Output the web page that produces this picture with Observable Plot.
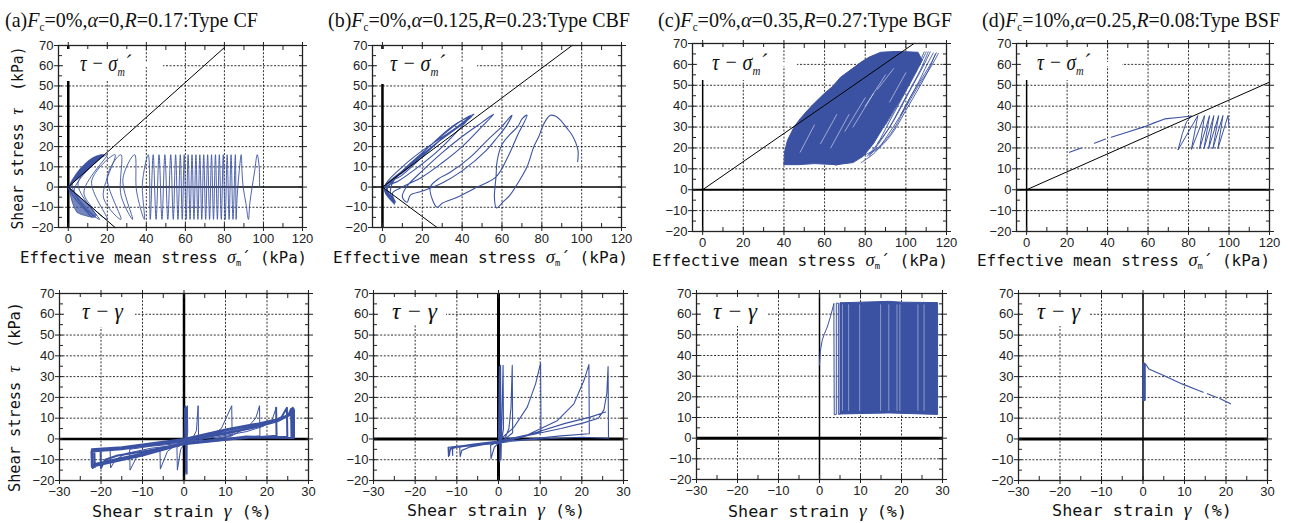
<!DOCTYPE html>
<html><head><meta charset="utf-8">
<script src="https://cdn.jsdelivr.net/npm/d3@7"></script>
<script src="https://cdn.jsdelivr.net/npm/@observablehq/plot@0.6"></script>
<style>
body{margin:0;background:#fff;}
#root{position:relative;width:1290px;height:523px;overflow:hidden;background:#fff;}
.t{position:absolute;white-space:nowrap;line-height:1;}
.title{font-family:"Liberation Serif","Times New Roman",serif;font-size:22px;color:#111;}
.ax{font-family:"DejaVu Sans Mono","Liberation Mono",monospace;font-size:16px;color:#111;}
.lab{font-family:"Liberation Serif",serif;font-style:italic;font-size:24px;color:#111;}
.gk{font-family:"Liberation Serif",serif;font-style:italic;font-size:1.15em;line-height:0;}
.box{position:absolute;background:#fff;}
sub{font-size:55%;vertical-align:-0.35em;line-height:0;}
</style></head><body><div id="root"></div><script>
const BLUE = "#3b52a2";

// ---- ticks / grid values ----
const topXLabels = [0,20,40,60,80,100,120];
const topXMinor = [0,10,20,30,40,50,60,70,80,90,100,110,120];
const botXLabels = [-30,-20,-10,0,10,20,30];
const botXMinor = [-30,-25,-20,-15,-10,-5,0,5,10,15,20,25,30];
const yLabels = [-20,-10,0,10,20,30,40,50,60,70];
const yMinor = [-20,-15,-10,-5,0,5,10,15,20,25,30,35,40,45,50,55,60,65,70];
const topGridX = [20,40,60,80,100];
const botGridX = [-20,-10,10,20];
const gridYVals = [-10,10,20,30,40,50,60];

// ---- (a) tau - sigma'm ----
const aFail = [[24,-20],[0,0],[80,69]];
const aWedgeUp = [[0,0],[2,3.5],[4,6.5],[6,9],[8,11],[10,12.8],[12,14.2],[14,15.2],[16,15.8],[18,16],[17,14.8],[14,12],[11,9.5],[8,7],[5,4.3],[2,1.7],[0,0]];
const aWedgeLo = [[0,0],[1,-3.4],[1.9,-7],[3,-10],[4.4,-12.5],[6.5,-13.5],[8.7,-14.1],[11,-14.7],[13,-15],[14.5,-14],[12,-10.5],[9,-7.8],[6,-5.1],[3,-2.5],[0,0]];
const aLoops = [[98,0],[97.8,10],[96.8,16],[95.5,8],[94.2,0],[93,-8],[92.3,-16],[91,-8],[89.6,0],[89,8],[88.6,16],[87.3,5],[86.5,-5],[86,-16],
 [85.6,16],[84.4,-16],[83.4,16],[82.4,-16],[81.4,16],[80.4,-16],[79.4,16],[78.4,-16],[77.4,16],[76.4,-16],
 [75.4,16],[74.4,-16],[73.4,16],[72.4,-16],[71.4,16],[70.4,-16],[69.4,16],[68.4,-16],[67.4,16],[66.4,-16],
 [65.4,16],[64.4,-16],[63.4,16],[62.4,-16],[61.4,16],[60.4,-16],[59.4,16],[58.4,-16],[57.4,16],[56.2,-16],
 [55,16],[53.8,-16],[52.5,16],[51,-16],[49.5,16],[48,-16],[46.5,16],[45,-16],[43.5,16],[42,-16],[41,16],
 [38,2],[39,-16],[35,-2],[34,16],[28,4],[33,-16],[27,-4],[27,16],[20,5],[27,-16],[18,-5],[24,16],[12,3],
 [20,-16],[8,-3],[20,16],[5,2],[16,-16],[3,-2],[18,16],[2,1],[14,-15],[1,-1],[17,16],[1,0.5],[12,-15],[0.5,0]];

// ---- (a) tau - gamma ----
const aStrainEarly = [[0,0],[0.2,15],[0.4,-16],[0.3,16],[0.5,-17],[0.6,15.5],[0.7,-17],
 [0.8,16],[0.9,3],[0.5,-1],[0,-2.5],[-0.8,-5],[-1.6,-15],
 [-1.7,-4],[0,-2],[2,0],[3,4],[3.4,16],
 [3.5,2],[1,-1.5],[-2,-3],[-4,-6],[-5.7,-14.5],
 [-5.8,-4.6],[-3,-3],[0,-2],[3,-1],[6,1],[9,5],[11.5,16],
 [11.6,1.5],[6,-1],[0,-2.5],[-5,-4],[-9,-6],[-11.5,-9],[-13,-15],
 [-13.1,-5],[-8,-3.5],[0,-2],[6,-0.5],[12,2],[15.5,6],[17.3,10],[18.2,16],
 [18.3,1.5],[10,-0.5],[0,-2.5],[-8,-4.5],[-14,-7],[-16.5,-10],[-17.7,-14],
 [-17.8,-5],[-10,-3.5],[0,-1.5],[8,1],[15,3.5],[19,6],[21.2,9],[22.2,15]];
const aStrainLate = [[22.2,15],[22.3,1.5],[12,0],[0,-2.5],[-10,-6],[-16,-8],[-19,-10],[-20,-14],
 [-20.1,-5.5],[-12,-4],[0,-1],[10,2.5],[17,5.5],[21,8],[23.5,10.5],[24.8,15],
 [24.9,1],[14,0.5],[0,-2.5],[-10,-7],[-17,-10],[-20.5,-12],[-21.5,-13.5],
 [-21.6,-5.5],[-14,-4.5],[0,-1],[10,3],[18,6],[22.5,8.5],[25,11],[25.8,14.5],
 [25.9,0.5],[14,0.8],[0,-2.5],[-10,-7.5],[-18,-10.5],[-21.5,-12],[-22,-14],
 [-22.1,-6],[-15,-4.5],[0,-0.5],[10,4],[18,7],[23,9.5],[25.5,12],[26.2,15],
 [26.3,0.5],[15,1],[0,-2],[-10,-7.5],[-18,-11],[-21.5,-12.5],[-22,-14],
 [-22.2,-5],[-15,-4],[0,0],[10,4.5],[18,7.5],[23.5,10],[26,12.5],[26.4,14.5],
 [26.5,0.5],[15,1.2],[0,-2.5],[-10,-8],[-18,-11.5],[-21.5,-13],[-22.2,-13.5],
 [-22.3,-6],[-15,-5],[0,-0.5],[10,4],[18,7],[23.5,9.5],[26,12],[26.5,14],[26.5,1]];

// ---- (b) tau - sigma'm ----
const bFail = [[27.4,-20],[0,0],[95.2,70]];
const bStress = [[98,12.5],[98.2,18],[97,22],[95,26],[92.7,29],[89.5,33],[87,35],[84.3,35.5],[82,33],[80,29],[78.5,25],[76,20],[72.6,10],[68,2],[64,-4],[60.9,-7],[57.2,-10.3],
 [56.2,-5],[56.5,0],[57,5],[57.6,13],[60,21],[64.3,26.3],[68,30],[70.1,33.7],[72.6,35.5],
 [68,26],[63,15],[57,5],[47.5,0],[37.5,-5],[30,-8],[27.5,-10],
 [25,-6],[24,0],[28,4],[34,7.3],[44,14.7],[52.5,23],[60,30],[63,33.5],[65,35.5],
 [62,30],[58,25],[52,18],[40,8],[30,2],[20,-2],[14,-4],[12.4,-7.5],
 [10,-5],[12,0],[20,8],[30,17],[40,25],[50,32],[55.8,36],
 [50,30],[40,20],[30,12],[20,5],[10,0],[5,-3],[6.5,-7.5],
 [4,-3],[5,2],[10,8],[20,16],[30,24],[40,31],[44.2,35],
 [38,28],[28,18],[18,10],[8,3],[2,0],[4,-6],
 [1,0],[10,10],[20,18],[35,28],[43,34],[30,24],[15,12],[5,3],[1,0],[5,-7],[2,-2],[8,6],[20,17],[40,33],[45,35],
 [25,20],[10,7],[2,1],[6,-8],[1,-1],[15,12],[35,30],[46,36],[30,24],[10,6],[1,0],[6,-8.5],[2,-3],[0.5,0]];

// ---- (b) tau - gamma ----
const bStrain = [[0,0],[0.2,35],[0.3,-11],[0.5,35.5],[0.6,-10],
 [1.1,35.5],[1.2,5],[0.8,0],[0,-2],[-1,-4],[-1.8,-9.5],
 [-1.9,-3],[0,-1.5],[1.5,0],[2.5,5],[3,15],[3.3,35.5],
 [3.4,3],[1,-1],[-3,-2.5],[-7,-4],[-8.8,-5.5],[-9.2,-8.5],
 [-9.3,-4],[-5,-2.5],[0,-1],[3.7,5.6],[6.9,15.3],[8.9,26.5],[10.1,36.5],
 [10.2,3.5],[5,0.5],[0,-2],[-5,-3],[-10,-4],[-11.5,-5],[-12,-8.5],
 [-12.1,-4],[-8,-3],[0,-1.5],[6,1],[14.1,8.8],[18.1,16.9],[20.5,28.1],[21.7,35.8],
 [21.8,2.5],[15,1.5],[5,-0.5],[0,-2],[-5,-3],[-10,-3.8],[-11.5,-4.5],[-11.8,-8],
 [-11.9,-4],[-8,-3],[0,-1],[8,2],[15,5],[20,7.5],[24,10],[25.3,14],[26,22],[26.3,34.8],
 [26.4,0.3],[20,0.8],[10,0],[0,-1.5],[-5,-2.5],[-10,-3.5],[-11,-4.5],[-11,-8],
 [-11.1,-4],[-6,-2.5],[0,-1],[8,2.5],[16,7.5],[22,10.5],[25.7,13]];

// ---- (c) tau - sigma'm ----
const cFail = [[0,0],[104,70]];
const cBlob = [[40,12],[40.3,18],[41.7,23.6],[44.9,29.9],[48,34],[51.5,37.9],[55,41.5],[59.7,45.9],[64,49.5],[67.9,53.9],[73,57.5],[77.8,61],[82,63.5],[87.6,65.8],[95,66.2],[101,66],[106,65.8],[108,62],[104,55],[99,46],[94,38],[89,30],[84,22],[79,16],[74,13],[66,12],[55,12.5],[47,12],[40,12]];
const cRight = [
 [1,110,66],[1,106,58],[1,101,49],[1,96,40],[1,91,31],[1,86,22],[1,81,16],
 [2,112,66],[2,108.5,59],[2,104,51],[2,99,42],[2,94,33],[2,88,24],[2,82,16],
 [3,113.5,65.5],[3,110.5,60],[3,106.5,52],[3,102,44],[3,97,35],[3,91,26],[3,85,18],[3,78,13],
 [4,115,65.5],[4,111.5,59],[4,107,52],[4,102,44],[4,97.4,35.5],
 [5,116,65.3],[5,112.2,58.6],[5,105.7,49],[5,99.1,37.9],[5,92.5,26.8],[5,84.3,18.8],[5,71.2,14],[5,65.4,11.6],
 [6,114.5,65],[6,111,57],[6,106,48],[6,100,38],[6,94,28],[6,88,21],[6,82,17],
 [7,111,66],[7,107,57],[7,102,48],[7,97,39],[7,92,30],[7,86,22],
 [8,109,66],[8,105,57],[8,100,48],[8,95,39],[8,90,31]];
const cStreaks = [[1,48,18],[1,55,31],[2,58,22],[2,66,36],[3,63,20],[3,72,36],[4,70,28],[4,80,44],[5,74,30],[5,84,46],[6,80,40],[6,90,55],[7,86,48],[7,94,58],[8,92,42],[8,100,56]];

// ---- (c) tau - gamma ----
const cIni = [[0,35.4],[0.2,42],[0.66,47.4],[1.2,50.5],[1.9,53.8],[2.7,59],[3.5,65]];
const cZig = [[3.5,65],[3.6,11.3],[4.1,11.5],[4.1,65.3],[4.6,65.3],[4.6,11.5],[5.1,11.8],[5.1,65.5]];
const cBand = [[5,11.7],[5,65.5],[10,65.8],[17,66.2],[20,65.8],[28.8,65.6],[28.8,11.5],[17,12.2],[5,11.7]];
const cGapG = [5.6,7.1,9.8,14.9,16.9,18.9,19.6,24,25.5];
const cGapT = [13,64.5];

// ---- (d) tau - sigma'm ----
const dFail = [[0,0],[120,51.5]];
const dLoops = [[100,30],[99.5,35.5],[94.5,19.6],[97,35.5],[92,19.6],[94.9,35.5],[89.9,19.6],[92.5,35.5],[87.6,19.6],[90.4,35.5],[85.5,19.6],[87.9,35.5],[81.4,19.3],[84.6,35.5],[74.8,19],[77,27],[79,32.5],[81.4,35.3]];
const dFlow = [[81.4,35.3],[75,34.6],[68.2,33.9],[63,32],[58.3,30.2],[50,27.6],[41.8,25.1],[null,null],[39,24.3],[33.5,22.3],[null,null],[27,20],[21.2,17.9]];

// ---- (d) tau - gamma ----
const dBar = [[0.25,19],[0.25,36]];
const dFlowStr = [[0.3,36],[0.6,36.1],[1.4,33.7],[5,30.5],[9.4,26.5],[13.4,23.3],[14.5,22.5],[null,null],[15.5,21.8],[17.5,20.2],[null,null],[18.5,19.5],[21.1,16.9]];

// ---- texts ----
const titles = [
 '(a)<i>F</i><sub>c</sub>=0%,<i>α</i>=0,<i>R</i>=0.17:Type CF',
 '(b)<i>F</i><sub>c</sub>=0%,<i>α</i>=0.125,<i>R</i>=0.23:Type CBF',
 '(c)<i>F</i><sub>c</sub>=0%,<i>α</i>=0.35,<i>R</i>=0.27:Type BGF',
 '(d)<i>F</i><sub>c</sub>=10%,<i>α</i>=0.25,<i>R</i>=0.08:Type BSF'];
const xLabelTop = 'Effective mean stress <span class="gk">σ</span><sub>m</sub>´ (kPa)';
const xLabelBot = 'Shear strain <span class="gk">γ</span> (%)';
const yLabel = 'Shear stress <span class="gk">τ</span>&nbsp;&nbsp;(kPa)';
const innerTop = 'τ − σ<sub>m</sub>´';
const innerBot = 'τ − γ';

// ---------------------------------------------------
const root = document.getElementById("root");
const X = d => d[0], Y = d => d[1];
const ZX = d => d[1], ZY = d => d[2];

function axes(xM, xA) {
  const o = {label: null};
  const blank = () => "";
  return [
    Plot.axisX(xM, {...o, anchor: "bottom", tickSize: 4, tickPadding: 2}),
    Plot.axisX(xM, {...o, anchor: "top", tickSize: 4, tickFormat: blank}),
    Plot.axisX(xA, {...o, anchor: "bottom", tickSize: 4, dy: -4, tickFormat: blank}),
    Plot.axisX(xA, {...o, anchor: "top", tickSize: 4, dy: 4, tickFormat: blank}),
    Plot.axisY(yLabels, {...o, anchor: "left", tickSize: 4, tickPadding: 1}),
    Plot.axisY(yLabels, {...o, anchor: "right", tickSize: 4, tickFormat: blank}),
    Plot.axisY(yMinor, {...o, anchor: "left", tickSize: 4, dx: 4, tickFormat: blank}),
    Plot.axisY(yMinor, {...o, anchor: "right", tickSize: 4, dx: -4, tickFormat: blank})
  ];
}

function panel(frame, isTop, dataMarks, zx, zy, box) {
  const [L, T, R, B] = frame;
  const ML = 44, MT = 10, MR = 10, MB = 26;
  const grid = {stroke: "#000", strokeOpacity: 0.9, strokeDasharray: "2,1.6", strokeWidth: 0.9};
  const svg = Plot.plot({
    width: R - L + ML + MR, height: B - T + MT + MB,
    marginLeft: ML, marginTop: MT, marginRight: MR, marginBottom: MB,
    x: {domain: isTop ? [-5, 120] : [-30, 30]},
    y: {domain: [-20, 70]},
    style: {background: "transparent", overflow: "visible", color: "#222",
            fontFamily: '"Liberation Sans", Arial, sans-serif', fontSize: "13px"},
    marks: [
      Plot.gridX(isTop ? topGridX : botGridX, grid),
      Plot.gridY(gridYVals, grid),
      Plot.ruleY([0], {stroke: "#000", strokeWidth: zy}),
      Plot.ruleX([0], {stroke: "#000", strokeWidth: zx}),
      ...dataMarks,
      Plot.frame({stroke: "#222", strokeWidth: 1.3}),
      ...axes(isTop ? topXLabels : botXLabels, isTop ? topXMinor : botXMinor)
    ]
  });
  svg.style.position = "absolute";
  svg.style.left = (L - ML) + "px";
  svg.style.top = (T - MT) + "px";
  root.appendChild(svg);
  const [bl, bt, br, bb, sr, sy] = box;
  const b1 = document.createElement("div"); b1.className = "box";
  Object.assign(b1.style, {left: bl + "px", top: bt + "px", width: (br - bl) + "px", height: (bb - bt) + "px"});
  root.appendChild(b1);
  const b2 = document.createElement("div"); b2.className = "box";
  Object.assign(b2.style, {left: br + "px", top: (sy - 2) + "px", width: (sr - br) + "px", height: "4px"});
  root.appendChild(b2);
}

function addText(html, cls, left, cy, targetW, rotate) {
  const el = document.createElement("div");
  el.className = "t " + cls;
  el.innerHTML = html;
  root.appendChild(el);
  const r = el.getBoundingClientRect();
  const k = targetW / r.width;
  if (!rotate) {
    el.style.left = left + "px";
    el.style.top = (cy - r.height / 2) + "px";
    el.style.transformOrigin = "0 50%";
    el.style.transform = `scaleX(${k})`;
  } else {
    el.style.left = (left - r.width / 2) + "px";
    el.style.top = (cy - r.height / 2) + "px";
    el.style.transformOrigin = "50% 50%";
    el.style.transform = `rotate(-90deg) scaleX(${k})`;
  }
}

const ln = (data, o) => Plot.line(data, {x: X, y: Y, ...o});
const lnz = (data, o) => Plot.line(data, {x: ZX, y: ZY, z: d => d[0], ...o});

// (a) top
panel([58, 45, 302, 227], true, [
  ln(aWedgeUp, {fill: BLUE, stroke: BLUE, strokeWidth: 0.8}),
  ln(aWedgeLo, {fill: BLUE, fillOpacity: 0.7, stroke: BLUE, strokeWidth: 0.8}),
  ln(aLoops, {stroke: BLUE, strokeWidth: 0.9, curve: "catmull-rom"}),
  ln(aFail, {stroke: "#000", strokeWidth: 1})
], 2.5, 1.5, [63, 49, 140, 81, 163, 65]);
// (b) top
panel([372, 45, 621, 227], true, [
  ln(bStress, {stroke: BLUE, strokeWidth: 1.1, curve: "catmull-rom"}),
  ln(bFail, {stroke: "#000", strokeWidth: 1})
], 2.5, 1.5, [377, 49, 455, 84, 477, 65]);
// (c) top
panel([692, 43, 946, 231], true, [
  ln(cBlob, {fill: BLUE, stroke: BLUE, strokeWidth: 1}),
  lnz(cStreaks, {stroke: "#fff", strokeOpacity: 0.5, strokeWidth: 1}),
  lnz(cRight, {stroke: BLUE, strokeWidth: 0.9, curve: "catmull-rom"}),
  ln(cFail, {stroke: "#000", strokeWidth: 1})
], 1.5, 2, [697, 47, 775, 80, 797, 64]);
// (d) top
panel([1016, 43, 1269, 231], true, [
  ln(dLoops, {stroke: BLUE, strokeWidth: 1}),
  ln(dFlow, {stroke: BLUE, strokeWidth: 1.1}),
  ln(dFail, {stroke: "#000", strokeWidth: 1})
], 1.5, 2, [1021, 47, 1100, 80, 1122, 64]);

// (a) bottom
panel([59, 293, 308, 480], false, [
  ln(aStrainEarly, {stroke: BLUE, strokeWidth: 1}),
  ln(aStrainLate, {stroke: BLUE, strokeWidth: 2})
], 2.5, 2.5, [64, 297, 125, 327, 135, 314]);
// (b) bottom
panel([373, 293, 623, 480], false, [
  ln(bStrain, {stroke: BLUE, strokeWidth: 1.1})
], 3, 3, [378, 297, 440, 325, 446, 314]);
// (c) bottom
panel([696, 293, 942, 479], false, [
  ln(cBand, {fill: BLUE, stroke: BLUE, strokeWidth: 1}),
  Plot.ruleX(cGapG, {y1: cGapT[0], y2: cGapT[1], stroke: "#fff", strokeOpacity: 0.4, strokeWidth: 1}),
  ln(cZig, {stroke: BLUE, strokeWidth: 1}),
  ln(cIni, {stroke: BLUE, strokeWidth: 1})
], 1.5, 3, [701, 297, 760, 326, 767, 314]);
// (d) bottom
panel([1018, 293, 1267, 480], false, [
  ln(dBar, {stroke: BLUE, strokeWidth: 3.5}),
  ln(dFlowStr, {stroke: BLUE, strokeWidth: 1.1})
], 1.5, 3, [1023, 297, 1082, 326, 1090, 314]);

// titles
addText(titles[0], "title", 5, 20, 253);
addText(titles[1], "title", 328, 20, 302);
addText(titles[2], "title", 658, 20, 294);
addText(titles[3], "title", 982, 20, 298);
// x labels
addText(xLabelTop, "ax", 20, 258, 287);
addText(xLabelTop, "ax", 333, 258, 295);
addText(xLabelTop, "ax", 652, 261, 296);
addText(xLabelTop, "ax", 977, 261, 293);
addText(xLabelBot, "ax", 92, 512, 180);
addText(xLabelBot, "ax", 407, 511, 178);
addText(xLabelBot, "ax", 728, 512, 179);
addText(xLabelBot, "ax", 1052, 511, 180);
// y labels
addText(yLabel, "ax", 18, 138, 183, true);
addText(yLabel, "ax", 15, 397, 190, true);
// inner labels
addText(innerTop, "lab", 80, 63, 51);
addText(innerTop, "lab", 390, 63, 55);
addText(innerTop, "lab", 712, 62, 55);
addText(innerTop, "lab", 1037, 62, 53);
addText(innerBot, "lab", 82, 311, 41);
addText(innerBot, "lab", 392, 311, 45);
addText(innerBot, "lab", 713, 311, 44);
addText(innerBot, "lab", 1037, 311, 43);
</script></body></html>
